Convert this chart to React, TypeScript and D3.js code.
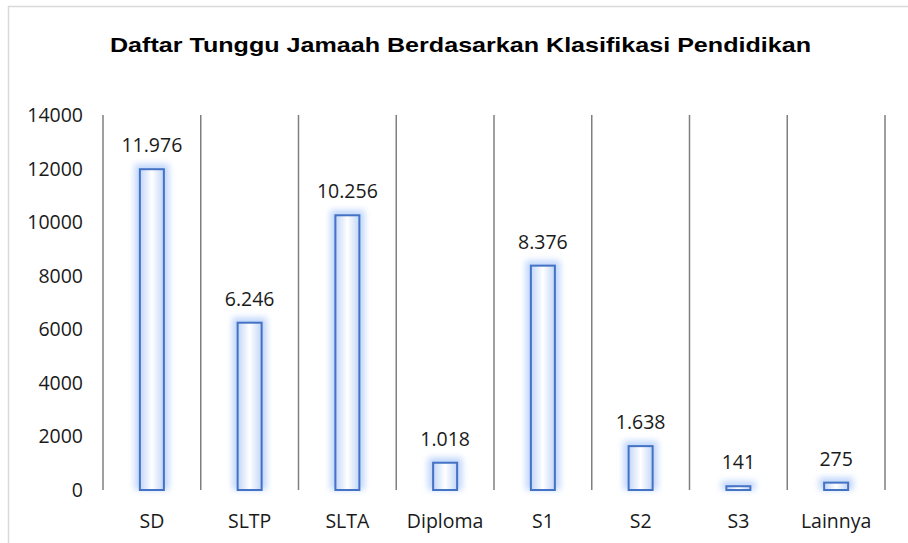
import React from "react";
import * as d3 from "d3";

const categories = ["SD", "SLTP", "SLTA", "Diploma", "S1", "S2", "S3", "Lainnya"];
const values = [11976, 6246, 10256, 1018, 8376, 1638, 141, 275];
const yTicks = [0, 2000, 4000, 6000, 8000, 10000, 12000, 14000];
const title = "Daftar Tunggu Jamaah Berdasarkan Klasifikasi Pendidikan";

const W = 908;
const H = 543;
const left = 103;
const right = 885;
const top = 115;
const bottom = 490;

const locale = d3.formatLocale({ decimal: ",", thousands: ".", grouping: [3], currency: ["Rp", ""] });
const fmt = locale.format(",d");

export default function App() {
  const x = d3.scaleBand<string>().domain(categories).range([left, right]).paddingInner(0).paddingOuter(0);
  const y = d3.scaleLinear().domain([0, 14000]).range([bottom, top]);
  const bw = 24;
  const font = "'Open Sans', sans-serif";
  const fs = 19.5;
  const boundaries = categories.map((c) => x(c) as number).concat([right]);

  return (
    <svg width={W} height={H} style={{ position: "absolute", left: 0, top: 0, background: "#fff" }}>
      <defs>
        <filter id="glow" x="-100%" y="-100%" width="300%" height="300%">
          <feGaussianBlur stdDeviation="3" />
        </filter>
        <linearGradient id="fillg" x1="0" x2="1" y1="0" y2="0">
          <stop offset="0" stopColor="#c2d6f7" />
          <stop offset="0.5" stopColor="#ffffff" />
          <stop offset="1" stopColor="#c2d6f7" />
        </linearGradient>
      </defs>
      <rect x={8.5} y={6.5} width={1200} height={1200} fill="#fff" stroke="#d9d9d9" strokeWidth={1.5} />
      <text x={460.5} y={52} textAnchor="middle" fontFamily="'Liberation Sans', Arial, sans-serif" fontWeight="bold" fontSize={21} fill="#000" textLength={701} lengthAdjust="spacingAndGlyphs">
        {title}
      </text>
      {boundaries.map((bx, i) => (
        <line key={i} x1={bx} x2={bx} y1={top} y2={bottom} stroke="#7f7f7f" strokeWidth={1.5} />
      ))}
      {yTicks.map((t) => (
        <text key={t} x={83} y={y(t) + 7} textAnchor="end" fontFamily={font} fontSize={fs} fill="#1a1a1a">
          {t}
        </text>
      ))}
      {categories.map((c, i) => {
        const cx = (x(c) as number) + x.bandwidth() / 2;
        const yt = y(values[i]);
        const h = bottom - yt;
        return (
          <g key={c}>
            <rect x={cx - bw / 2 - 5} y={yt - 5} width={bw + 10} height={h + 5} fill="#b3cefb" opacity={0.85} filter="url(#glow)" />
            <rect x={cx - bw / 2} y={yt} width={bw} height={h} fill="url(#fillg)" stroke="#4472c4" strokeWidth={2} />
            <text x={cx} y={yt - 17} textAnchor="middle" fontFamily={font} fontSize={fs} fill="#1a1a1a">
              {fmt(values[i])}
            </text>
            <text x={cx} y={528} textAnchor="middle" fontFamily={font} fontSize={fs} fill="#1a1a1a">
              {c}
            </text>
          </g>
        );
      })}
    </svg>
  );
}
